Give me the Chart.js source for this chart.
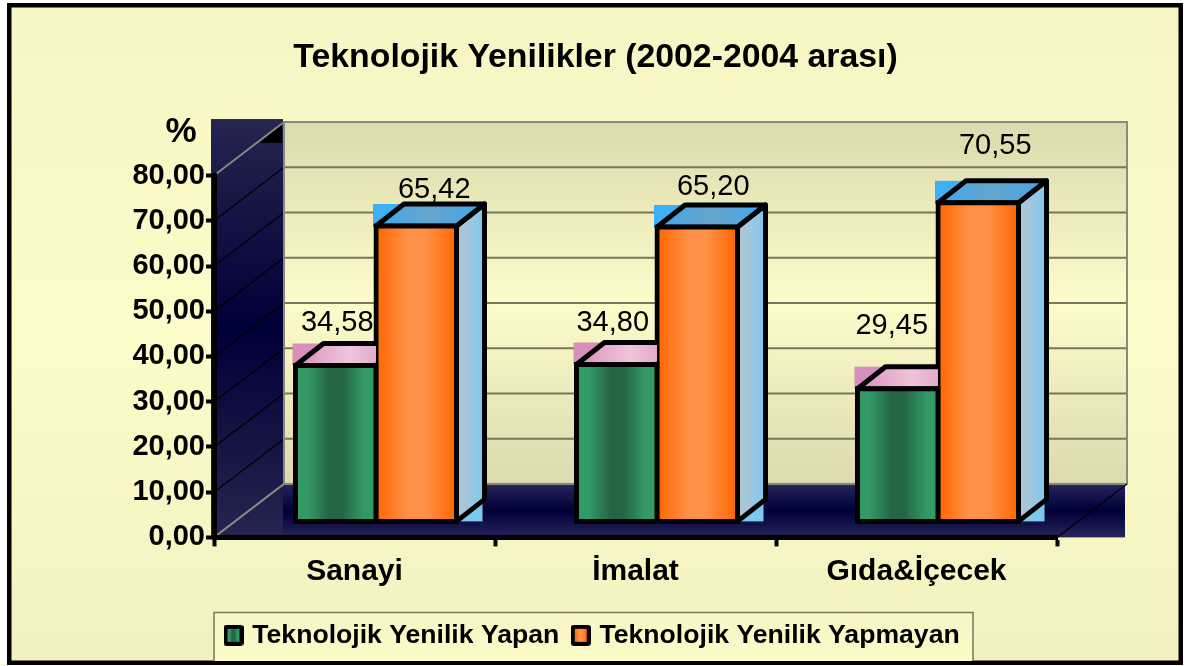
<!DOCTYPE html>
<html><head><meta charset="utf-8">
<style>html,body{margin:0;padding:0;background:#fff}canvas{display:block}</style>
<script src="https://cdn.jsdelivr.net/npm/chart.js@4"></script></head>
<body><div style="width:1187px;height:666px"><canvas id="c" width="1187" height="666"></canvas></div>
<script>
const categories = ["Sanayi", "İmalat", "Gıda&İçecek"];
const seriesNames = ["Teknolojik Yenilik Yapan", "Teknolojik Yenilik Yapmayan"];
const yapan = [34.58, 34.80, 29.45];
const yapmayan = [65.42, 65.20, 70.55];

const FONT = '"Liberation Sans", Arial, sans-serif';
const wallDepth = {x: 70, y: -53.5};
const barShift = {x: 21.5, y: -15.5};
const barDepth = {x: 28, y: -22};
const barShare = 0.573;
const labelNudge = [[[1.5,-42],[-4,-41],[-6,-63]], [[18,-36],[16,-40],[17,-57]]];
const fmt = v => v.toFixed(2).replace('.', ',');
const vGrad = (ctx, y0, y1, stops) => { const g = ctx.createLinearGradient(0,y0,0,y1); stops.forEach(s=>g.addColorStop(s[0],s[1])); return g; };
const hGrad = (ctx, x0, x1, stops) => { const g = ctx.createLinearGradient(x0,0,x1,0); stops.forEach(s=>g.addColorStop(s[0],s[1])); return g; };
const greenStops = [[0,'#339966'],[.15,'#339966'],[.42,'#246644'],[.58,'#246644'],[.85,'#339966'],[1,'#339966']];
const orangeStops = [[0,'#ff6600'],[.4,'#ff9248'],[.6,'#ff9248'],[1,'#ff6600']];

function marker(stops){
  const c = document.createElement('canvas'); c.width = 20; c.height = 21;
  const x = c.getContext('2d');
  x.fillStyle = '#000'; x.beginPath(); x.roundRect(0,0,20,21,3); x.fill();
  x.fillStyle = hGrad(x,4,16,stops); x.fillRect(4,4,12,13);
  return c;
}
function poly(ctx, pts){ ctx.beginPath(); pts.forEach((p,i)=> i?ctx.lineTo(p[0],p[1]):ctx.moveTo(p[0],p[1])); ctx.closePath(); }

const scenery = {
  id: 'scenery',
  afterLayout(chart){
    chart.titleBlock.left = 0; chart.titleBlock.right = 1191;
    chart.legend.top = 606; chart.legend.left -= 2;
  },
  beforeDraw(chart){
    const {ctx, scales:{x,y}} = chart;
    const W = chart.width, H = chart.height;
    const L = x.left, R = x.right, B = y.getPixelForValue(0), T = y.getPixelForValue(80);
    const d = wallDepth;
    ctx.save();
    ctx.fillStyle = '#fff'; ctx.fillRect(0,0,W,H);
    ctx.fillStyle = vGrad(ctx,4,662,[[0,'#f7f5c3'],[.5,'#fdfcc9'],[1,'#f3f1bf']]);
    ctx.fillRect(8,4,1174,660);
    ctx.lineWidth = 4.5; ctx.strokeStyle = '#000'; ctx.strokeRect(9.25,5.25,1171.5,657.5);
    // back wall
    ctx.fillStyle = vGrad(ctx,T+d.y,B+d.y,[[0,'#dcdaae'],[.5,'#fdfcc9'],[1,'#dcdaae']]);
    ctx.fillRect(L+d.x,T+d.y,R-L,B-T);
    // floor and left wall, painted as their bounding rectangles
    ctx.fillStyle = vGrad(ctx,B+d.y,B,[[0,'#25255a'],[.5,'#000038'],[1,'#25255a']]);
    ctx.fillRect(L-3,B+d.y,R-L+71,-d.y);
    ctx.fillStyle = vGrad(ctx,T+d.y-3,B,[[0,'#25254f'],[.5,'#000038'],[1,'#25254f']]);
    ctx.fillRect(L-3,T+d.y-3,d.x+2,B-T-d.y+3);
    ctx.fillStyle = '#000';
    poly(ctx,[[L+d.x-2,T+d.y],[L+d.x-2,T+d.y+21],[L+46,T+d.y+21]]); ctx.fill();
    // back wall grid + diagonals
    y.ticks.forEach(t => {
      const py = y.getPixelForValue(t.value);
      ctx.lineWidth = 2; ctx.strokeStyle = '#77775a';
      ctx.beginPath(); ctx.moveTo(L+d.x,py+d.y); ctx.lineTo(R+d.x,py+d.y); ctx.stroke();
      ctx.lineWidth = 1.2; ctx.strokeStyle = '#000';
      ctx.beginPath(); ctx.moveTo(L,py); ctx.lineTo(L+d.x,py+d.y); ctx.stroke();
    });
    ctx.strokeStyle = '#888884'; ctx.lineWidth = 2;
    ctx.strokeRect(L+d.x,T+d.y,R-L,B-T);
    [[L,T],[L,B]].forEach(p=>{ctx.beginPath();ctx.moveTo(p[0],p[1]);ctx.lineTo(p[0]+d.x,p[1]+d.y);ctx.stroke();});
    ctx.strokeStyle = '#000'; ctx.lineWidth = 1.2;
    ctx.beginPath();ctx.moveTo(R,B);ctx.lineTo(R+d.x,B+d.y);ctx.stroke();
    // legend frame
    ctx.fillStyle = vGrad(ctx,612,661,[[0,'#f7f5c3'],[1,'#fdfcc9']]);
    ctx.fillRect(214,612,759,49);
    ctx.strokeStyle = '#77775a'; ctx.lineWidth = 1.5;
    ctx.beginPath();ctx.moveTo(214,661);ctx.lineTo(214,612.5);ctx.lineTo(973,612.5);ctx.lineTo(973,661);ctx.stroke();
    // % mark
    ctx.fillStyle = '#000'; ctx.font = 'bold 35px '+FONT; ctx.textAlign='center'; ctx.textBaseline='middle';
    ctx.fillText('%',181,132);
    ctx.restore();
  },
  beforeDatasetsDraw(chart){
    const ctx = chart.ctx;
    ctx.save();
    ctx.fillStyle = '#000'; ctx.font = '29px '+FONT; ctx.textAlign='center'; ctx.textBaseline='middle';
    chart.data.datasets.forEach((ds,di)=>{
      chart.getDatasetMeta(di).data.forEach((el,i)=>{
        const n = labelNudge[di][i];
        ctx.fillText(fmt(ds.data[i]), el.x+barShift.x+n[0], el.y+barShift.y+n[1]);
      });
    });
    ctx.restore();
  },
  beforeDatasetDraw(chart,args){
    const ctx = chart.ctx, di = args.index;
    ctx.save();
    ctx.translate(barShift.x,barShift.y);
    const top = di===0 ? {flat:'#d88fbb', stops:[[0,'#d88fbb'],[.5,'#eec5dc'],[1,'#d88fbb']]} : {flat:'#3fb0f5', stops:[[0,'#3fa8ee'],[.5,'#66a4cc'],[1,'#3fa8ee']]};
    args.meta.data.forEach(el=>{
      const x0 = el.x-el.width/2, x1 = el.x+el.width/2, t = el.y, b = el.base, D = barDepth;
      ctx.save();
      // the first series stands left of the second: its top stops at the neighbour's edge
      if(di===0){ ctx.beginPath(); ctx.rect(x0-10,t+D.y-10,x1-x0+10,-D.y+20); ctx.clip(); }
      // bounding rectangles show behind the angled faces
      ctx.fillStyle = top.flat;
      ctx.fillRect(x0-3,t+D.y,x1-x0+D.x,-D.y);
      if(di===1){ ctx.fillStyle='#7cc8f0'; ctx.fillRect(x1,t,D.x-2,b-t); }
      ctx.lineJoin='round'; ctx.lineWidth=5; ctx.strokeStyle='#000';
      if(di===1){
        ctx.fillStyle = hGrad(ctx,x1,x1+D.x,[[0,'#a9c6d8'],[.3,'#a9c6d8'],[1,'#7cc8f0']]);
        poly(ctx,[[x1,t],[x1+D.x,t+D.y],[x1+D.x,b+D.y],[x1,b]]); ctx.fill(); ctx.stroke();
      }
      ctx.fillStyle = hGrad(ctx,x0,x1+D.x,top.stops);
      poly(ctx,[[x0,t],[x0+D.x,t+D.y],[x1+D.x,t+D.y],[x1,t]]); ctx.fill(); ctx.stroke();
      ctx.restore();
    });
  },
  afterDatasetDraw(chart){ chart.ctx.restore(); }
};

function barFill(stops){
  return c => {
    if (c.type !== 'data') return stops[0][1];
    const ch = c.chart, xs = ch.scales.x;
    const center = xs.getPixelForValue(c.dataIndex);
    const w = xs.width/categories.length*barShare/2;
    const x0 = center + (c.datasetIndex===0 ? -w : 0);
    return hGrad(ch.ctx,x0,x0+w,stops);
  };
}

new Chart(document.getElementById('c'), {
  type:'bar',
  plugins:[scenery],
  data:{labels:categories, datasets:[
    {label:seriesNames[0], data:yapan, backgroundColor:barFill(greenStops), borderColor:'#000', borderWidth:5, inflateAmount:2.5, borderSkipped:false, clip:false},
    {label:seriesNames[1], data:yapmayan, backgroundColor:barFill(orangeStops), borderColor:'#000', borderWidth:5, inflateAmount:2.5, borderSkipped:false, clip:false}
  ]},
  options:{
    responsive:false, animation:false, devicePixelRatio:1,
    categoryPercentage:barShare, barPercentage:1,
    layout:{padding:{left:10,right:130,top:6,bottom:0}},
    plugins:{
      tooltip:{enabled:false},
      title:{display:true,text:'Teknolojik Yenilikler (2002-2004 arası)',color:'#000',
        font:{family:FONT,size:33.8,weight:'bold'},padding:{top:31,bottom:98},align:'center',fullSize:true},
      legend:{position:'bottom',align:'start',fullSize:false,
        labels:{color:'#000',font:{family:FONT,size:26.6,weight:'bold'},usePointStyle:true,pointStyleWidth:11,padding:16,
          generateLabels:ch=>[greenStops,orangeStops].map((s,i)=>({text:seriesNames[i],pointStyle:marker(s),datasetIndex:i,fontColor:'#000',lineWidth:0,hidden:false}))}}
    },
    scales:{
      x:{offset:true,
        grid:{drawOnChartArea:false,drawTicks:true,tickLength:9,tickWidth:4,tickColor:'#000',offset:true},
        border:{color:'#000',width:5},
        ticks:{color:'#000',font:{family:FONT,size:30,weight:'bold'},padding:7,maxRotation:0},
        afterFit:s=>{s.height=76;}
      },
      y:{min:0,max:80,
        grid:{drawOnChartArea:false,drawTicks:true,tickLength:8,tickWidth:4,tickColor:'#000'},
        border:{color:'#000',width:5},
        ticks:{stepSize:10,color:'#000',font:{family:FONT,size:29,weight:'bold'},padding:1,callback:v=>fmt(v)},
        afterFit:s=>{s.width=204;}
      }
    }
  }
});
</script></body></html>
